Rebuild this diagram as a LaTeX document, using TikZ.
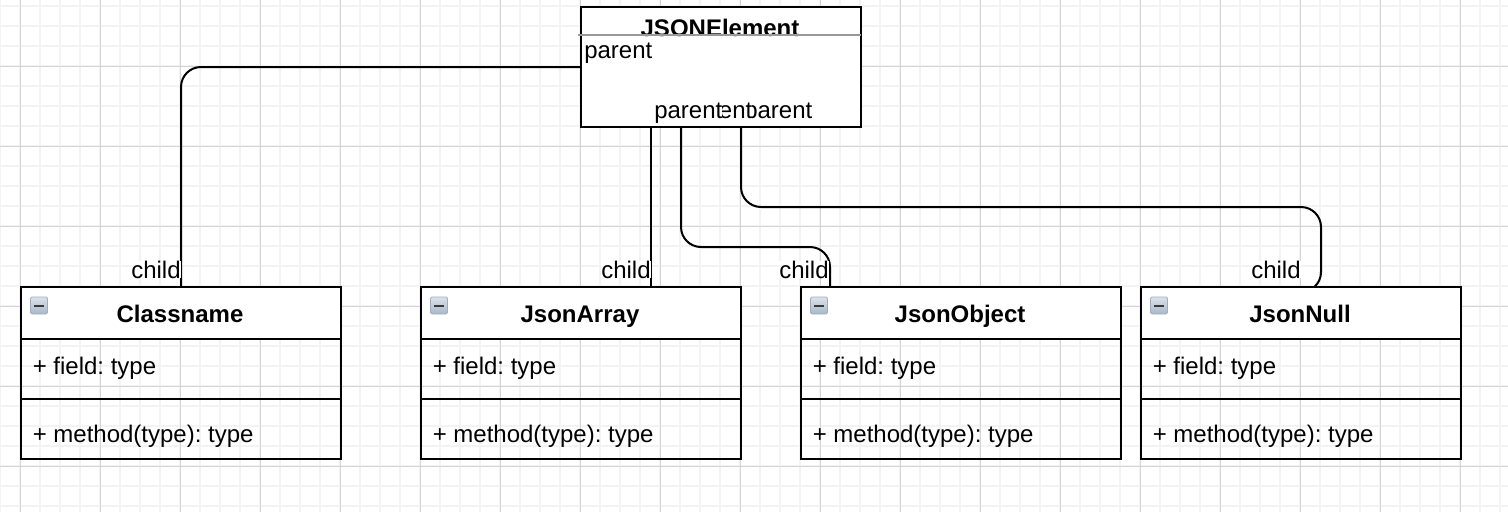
\documentclass[tikz,border=0pt]{standalone}
\usepackage{fontspec}
\setmainfont{Liberation Sans}
\frenchspacing
\definecolor{gridmajor}{HTML}{D4D4D4}
\definecolor{gridminor}{HTML}{F3F3F3}
\definecolor{headline}{HTML}{999999}
\tikzset{
  x=0.75pt,y=-0.75pt,
  boxpart/.style={draw=black,line width=1.5pt,minimum width=240pt,inner sep=0pt,outer sep=0pt,anchor=north west},
  conn/.style={draw=black,line width=1.5pt,rounded corners=15pt},
  lbl/.style={font=\fontsize{18}{20}\selectfont,inner sep=0pt,anchor=base west,text=black,fill=white},
  member/.style={font=\fontsize{18}{20}\selectfont,inner sep=0pt,anchor=base west,text=black},
  title/.style={font=\fontsize{18}{20}\selectfont\bfseries,inner sep=0pt,anchor=base,text=black},
}
\newcommand{\umlclass}[3]{%
  \node[boxpart,fill=white,minimum height=39pt] (#1head) at (#2,287) {};
  \node[boxpart,minimum height=45pt] (#1fields) at (#2,339) {};
  \node[boxpart,minimum height=45pt] (#1methods) at (#2,399) {};
  \node[title] (#1title) at (#2+159,322) {#3};
  \node[member] (#1field) at (#2+11.5,374) {+ field: type};
  \node[member] (#1method) at (#2+11.5,442) {+ method(type): type};
  \shade[rounded corners=1pt,top color=iconlight,bottom color=icondark,draw=iconedge,line width=.5pt] (#2+9.5,297) rectangle ++(17,17);
  \fill[iconbar] (#2+13,304.5) rectangle ++(10,2.5);
}
\definecolor{iconlight}{HTML}{DCE3EA}
\definecolor{icondark}{HTML}{A8B8C8}
\definecolor{iconedge}{HTML}{9DAEBF}
\definecolor{iconbar}{HTML}{3A3A3A}
\begin{document}
\begin{tikzpicture}
\useasboundingbox (0,0) rectangle (1508,512);
\fill[white] (0,0) rectangle (1508,512);
\foreach \i in {0,...,75} \draw[gridminor,line width=1pt] (20*\i,0) -- (20*\i,512);
\foreach \j in {0,...,25} \draw[gridminor,line width=1pt] (0,6+20*\j) -- (1508,6+20*\j);
\foreach \i in {0,...,18} \draw[gridmajor,line width=.75pt] (20+80*\i,0) -- (20+80*\i,512);
\foreach \j in {0,...,5} \draw[gridmajor,line width=.75pt] (0,66+80*\j) -- (1508,66+80*\j);

\node[boxpart,fill=white,minimum width=210pt,minimum height=90pt] (el) at (581,7) {};
\coordinate (elW) at (581,67);
\coordinate (elA) at (651,127);
\coordinate (elB) at (681,127);
\coordinate (elC) at (741,127);
\coordinate (objT) at (830,287);
\coordinate (nullIn) at (1301,292);
\coordinate (arrT) at (651,287);

\draw[conn] (elW) -| (181,287);
\draw[conn] (elA) -- (arrT);
\draw[conn] (elB) |- (830,247) -- (objT);
\draw[conn] (elC) |- (1321,207) |- (nullIn);

\umlclass{cls}{21}{Classname}
\umlclass{arr}{421}{JsonArray}
\umlclass{obj}{801}{JsonObject}
\umlclass{nul}{1141}{JsonNull}

\node[title] (eltitle) at (720,36) {JSONElement};
\draw[headline,line width=1.1pt] (578,35) -- (861,35);
\node[lbl,fill=none] (p0) at (584,58) {parent};
\node[lbl] (p3) at (744,118) {parent};
\node[lbl] (p2) at (684,118) {parent};
\node[lbl] (p1) at (654,118) {parent};
\node[lbl] (c0) at (131,278) {child};
\node[lbl] (c1) at (601,278) {child};
\node[lbl] (c2) at (779,278) {child};
\node[lbl] (c3) at (1251,278) {child};
\end{tikzpicture}
\end{document}
